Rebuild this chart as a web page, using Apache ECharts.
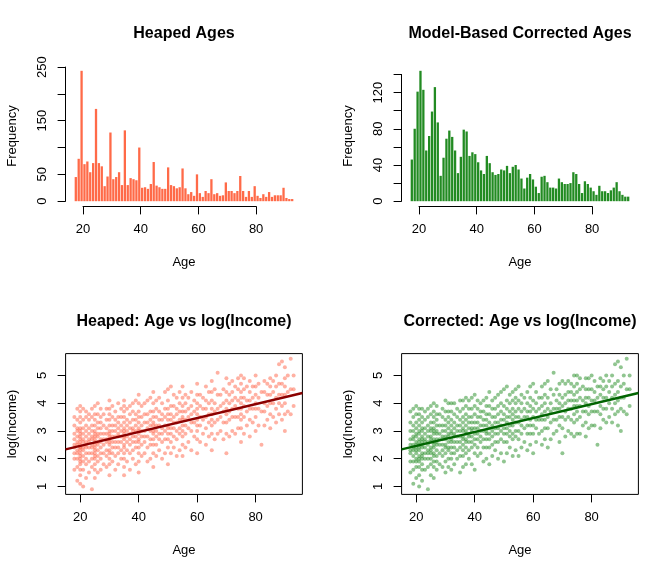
<!DOCTYPE html>
<html>
<head>
<meta charset="utf-8">
<script src="https://cdn.jsdelivr.net/npm/echarts@6/dist/echarts.min.js"></script>
<style>
html, body { margin: 0; padding: 0; background: #fff; }
#chart { width: 672px; height: 576px; }
</style>
</head>
<body>
<div id="chart"></div>
<script>
// one histogram bar / one column of points per year of age
const ages = [18,19,20,21,22,23,24,25,26,27,28,29,30,31,32,33,34,35,36,37,38,39,40,
  41,42,43,44,45,46,47,48,49,50,51,52,53,54,55,56,57,58,59,60,
  61,62,63,64,65,66,67,68,69,70,71,72,73,74,75,76,77,78,79,80,
  81,82,83,84,85,86,87,88,89,90,91,92,93];

// histogram counts
const heapedFreq = [45,79,243,69,74,54,71,172,71,65,28,46,128,41,45,54,30,132,30,43,41,39,100,
  25,26,23,32,73,29,26,23,23,63,30,28,24,26,61,24,13,17,10,50,
  15,8,19,15,41,13,15,10,11,35,19,19,15,19,47,19,8,19,8,28,10,6,13,8,17,8,11,11,11,25,6,4,4];
const correctedFreq = [46,80,121,144,123,56,72,99,126,87,28,48,69,78,71,56,31,49,79,77,50,54,52,
  43,34,30,50,42,32,29,30,35,34,39,31,38,40,35,25,14,26,30,24,
  16,9,27,28,21,15,15,14,25,21,19,19,20,32,30,19,9,22,19,15,11,7,17,11,11,9,12,15,21,11,7,5,5];

// log(income) values per age (a thinned sample of the visible cloud)
const heapedIncome = [
  [1.6,2.0,2.2,2.4,2.5,2.7,2.9,3.2,3.5],
  [1.2,1.7,2.0,2.2,2.3,2.5,2.6,2.8,3.0,3.1,3.4,3.8],
  [1.1,1.4,1.6,1.8,1.9,2.0,2.1,2.2,2.3,2.4,2.4,2.5,2.6,2.7,2.8,2.9,3.0,3.1,3.3,3.5,3.7,3.9],
  [1.0,1.6,1.9,2.1,2.3,2.4,2.6,2.7,2.9,3.1,3.4,3.8],
  [1.3,1.8,2.0,2.2,2.4,2.5,2.6,2.8,3.0,3.2,3.5,3.7],
  [1.5,1.9,2.2,2.4,2.6,2.7,2.9,3.1,3.4,3.6],
  [0.9,1.7,2.0,2.2,2.4,2.5,2.7,2.8,3.0,3.2,3.5,3.8],
  [1.3,1.6,1.8,2.0,2.1,2.2,2.3,2.4,2.5,2.6,2.7,2.8,2.9,3.0,3.2,3.4,3.6,3.9],
  [1.5,1.9,2.1,2.3,2.5,2.6,2.8,2.9,3.1,3.3,3.6,4.0],
  [1.6,2.0,2.2,2.4,2.6,2.7,2.9,3.1,3.3,3.5,3.8],
  [1.8,2.2,2.5,2.7,2.9,3.2,3.6],
  [1.7,2.1,2.3,2.6,2.7,2.9,3.1,3.4,3.8],
  [1.4,1.8,2.0,2.2,2.3,2.5,2.6,2.7,2.8,2.9,3.0,3.2,3.4,3.6,3.8,4.1],
  [1.9,2.2,2.4,2.6,2.8,3.0,3.2,3.5,3.9],
  [1.6,2.1,2.4,2.6,2.8,3.0,3.2,3.4,3.7],
  [1.8,2.2,2.4,2.6,2.8,2.9,3.1,3.3,3.5,4.0],
  [2.0,2.3,2.6,2.8,3.0,3.2,3.5,3.8],
  [1.4,1.7,2.0,2.2,2.4,2.5,2.7,2.8,2.9,3.0,3.1,3.3,3.5,3.7,3.9,4.1],
  [1.9,2.3,2.6,2.8,3.0,3.2,3.4,3.8],
  [1.6,2.2,2.5,2.7,2.9,3.1,3.3,3.6,3.9],
  [2.0,2.3,2.6,2.8,3.0,3.1,3.4,3.7,4.0],
  [1.8,2.4,2.6,2.8,3.0,3.2,3.4,3.6,4.1],
  [1.5,1.9,2.2,2.4,2.6,2.7,2.9,3.0,3.1,3.3,3.5,3.7,4.0,4.3],
  [2.1,2.5,2.8,3.0,3.2,3.5,3.9],
  [2.2,2.6,2.8,3.0,3.3,3.6,4.0],
  [1.9,2.4,2.8,3.1,3.3,3.6,4.1],
  [2.0,2.5,2.7,3.0,3.2,3.4,3.7,4.2],
  [1.7,2.2,2.5,2.7,2.9,3.0,3.2,3.3,3.5,3.7,4.0,4.4],
  [2.1,2.5,2.8,3.0,3.2,3.5,3.8,4.1],
  [2.3,2.7,2.9,3.2,3.4,3.7,4.2],
  [2.0,2.6,2.9,3.1,3.4,3.6,4.0],
  [2.2,2.7,3.0,3.2,3.5,3.8,4.4],
  [1.8,2.4,2.7,2.9,3.1,3.2,3.4,3.6,3.8,4.1,4.5],
  [2.2,2.6,2.9,3.1,3.4,3.6,3.9,4.6],
  [2.4,2.8,3.1,3.3,3.5,3.9,4.3],
  [2.1,2.7,3.0,3.3,3.6,3.8,4.2],
  [2.3,2.9,3.1,3.4,3.7,4.0,4.4],
  [2.1,2.5,2.8,3.0,3.2,3.4,3.5,3.7,3.9,4.2,4.6],
  [2.4,2.9,3.2,3.4,3.7,4.0,4.3],
  [2.6,3.1,3.5,3.8,4.2],
  [2.3,3.0,3.3,3.6,3.9,4.4],
  [2.8,3.3,3.7,4.1],
  [2.2,2.7,3.0,3.2,3.4,3.6,3.8,4.0,4.3,4.7],
  [2.6,3.2,3.5,3.9,4.3],
  [2.9,3.4,3.8,4.2],
  [2.5,3.1,3.5,3.8,4.1,4.6],
  [2.8,3.3,3.6,4.0,4.4],
  [2.3,2.9,3.2,3.4,3.6,3.8,4.1,4.4,4.8],
  [2.7,3.3,3.7,4.0,4.5],
  [2.9,3.4,3.8,4.3,5.1],
  [3.0,3.5,3.9,4.3],
  [2.7,3.3,3.7,4.0,4.5],
  [2.2,2.9,3.3,3.6,3.8,4.1,4.4,4.9],
  [2.8,3.4,3.7,4.0,4.3,4.7],
  [3.0,3.5,3.8,4.1,4.4,4.8],
  [2.9,3.5,3.9,4.2,4.6],
  [3.1,3.5,3.8,4.1,4.5,4.9],
  [2.6,3.1,3.4,3.6,3.8,4.0,4.2,4.4,4.7,5.0],
  [2.9,3.5,3.9,4.2,4.5,4.9],
  [3.2,3.7,4.1,4.6],
  [2.8,3.4,3.8,4.1,4.4,4.8],
  [3.3,3.8,4.2,4.6],
  [3.0,3.5,3.8,4.0,4.3,4.6,5.0],
  [3.2,3.8,4.2,4.7],
  [2.5,3.7,4.4],
  [3.2,3.7,4.0,4.4,4.8],
  [3.4,3.9,4.3,4.7],
  [3.1,3.6,4.0,4.3,4.6,4.9],
  [3.5,4.0,4.4,4.8],
  [3.3,3.8,4.2,4.6,5.0],
  [3.6,4.0,4.3,4.7,5.4],
  [3.4,3.9,4.3,4.7,5.5],
  [3.0,3.6,4.0,4.3,4.6,4.9,5.3],
  [3.7,4.4,5.0],
  [3.6,4.5,5.6],
  [3.9,4.5,5.0]
];
const correctedIncome = [
  [1.5,1.9,2.2,2.3,2.5,2.7,3.0,3.3,3.7],
  [1.1,1.6,1.9,2.1,2.3,2.4,2.5,2.7,2.8,3.0,3.2,3.5,3.8],
  [1.3,1.7,1.9,2.0,2.2,2.3,2.4,2.5,2.6,2.8,2.9,3.1,3.3,3.6,3.9],
  [1.0,1.4,1.7,1.9,2.0,2.1,2.3,2.4,2.5,2.6,2.7,2.9,3.0,3.2,3.4,3.6,3.8],
  [1.2,1.6,1.8,2.0,2.1,2.2,2.4,2.5,2.6,2.7,2.8,3.0,3.1,3.3,3.5,3.8],
  [1.6,2.0,2.2,2.4,2.6,2.7,2.9,3.1,3.4,3.7],
  [0.9,1.7,2.0,2.2,2.3,2.5,2.6,2.8,3.0,3.2,3.5,3.8],
  [1.4,1.8,2.0,2.2,2.3,2.4,2.6,2.7,2.8,3.0,3.1,3.3,3.6,3.9],
  [1.3,1.7,1.9,2.1,2.2,2.4,2.5,2.6,2.7,2.9,3.0,3.1,3.3,3.5,3.7,4.0],
  [1.6,1.9,2.1,2.3,2.5,2.6,2.7,2.9,3.0,3.2,3.4,3.6,3.9],
  [1.8,2.2,2.5,2.7,2.9,3.2,3.6],
  [1.7,2.1,2.3,2.5,2.7,2.8,3.0,3.2,3.5,3.8],
  [1.5,1.9,2.2,2.4,2.5,2.7,2.8,3.0,3.2,3.4,3.7,4.1],
  [1.7,2.0,2.3,2.4,2.6,2.8,2.9,3.1,3.3,3.5,3.7,4.0],
  [1.6,2.0,2.2,2.4,2.6,2.7,2.9,3.0,3.2,3.4,3.7,4.0],
  [1.8,2.2,2.4,2.6,2.8,2.9,3.1,3.3,3.6,4.0],
  [2.0,2.3,2.6,2.8,3.0,3.2,3.5,3.8],
  [1.5,2.1,2.4,2.6,2.8,3.0,3.2,3.4,3.7,4.1],
  [1.7,2.1,2.3,2.5,2.7,2.8,3.0,3.1,3.3,3.5,3.8,4.1],
  [1.8,2.2,2.4,2.6,2.7,2.9,3.0,3.2,3.4,3.6,3.9,4.2],
  [2.0,2.3,2.6,2.8,2.9,3.1,3.3,3.5,3.8,4.1],
  [1.8,2.4,2.6,2.8,3.0,3.1,3.3,3.5,3.8,4.2],
  [1.6,2.2,2.5,2.7,2.9,3.1,3.3,3.6,3.9,4.3],
  [2.1,2.4,2.7,2.9,3.1,3.3,3.5,3.8,4.1],
  [2.2,2.6,2.8,3.0,3.2,3.5,3.7,4.0],
  [1.9,2.4,2.7,3.0,3.2,3.4,3.7,4.1],
  [2.0,2.4,2.7,2.9,3.0,3.2,3.4,3.6,3.9,4.2],
  [1.8,2.4,2.7,2.9,3.1,3.3,3.6,3.9,4.4],
  [2.1,2.5,2.8,3.0,3.2,3.5,3.8,4.1],
  [2.3,2.6,2.9,3.1,3.3,3.5,3.8,4.2],
  [2.0,2.6,2.9,3.1,3.3,3.6,3.9,4.3],
  [2.2,2.7,3.0,3.2,3.4,3.7,4.0,4.4],
  [1.9,2.6,2.9,3.1,3.4,3.6,3.9,4.5],
  [2.2,2.6,2.9,3.1,3.3,3.5,3.8,4.1,4.6],
  [2.4,2.8,3.0,3.2,3.5,3.7,4.0,4.3],
  [2.1,2.7,2.9,3.2,3.4,3.6,3.8,4.1,4.4],
  [2.3,2.8,3.0,3.3,3.5,3.7,4.0,4.2,4.5],
  [2.1,2.7,3.0,3.3,3.5,3.8,4.1,4.6],
  [2.4,2.9,3.2,3.4,3.7,4.0,4.3],
  [2.6,3.1,3.5,3.8,4.2],
  [2.3,2.9,3.2,3.5,3.7,4.0,4.4],
  [2.5,2.9,3.2,3.4,3.7,3.9,4.2,4.6],
  [2.2,2.9,3.2,3.5,3.8,4.1,4.7],
  [2.6,3.1,3.4,3.7,4.0,4.4],
  [2.9,3.4,3.8,4.2],
  [2.5,3.0,3.4,3.6,3.9,4.2,4.6],
  [2.7,3.1,3.4,3.7,4.0,4.3,4.7],
  [2.4,3.1,3.5,3.8,4.2,4.8],
  [2.7,3.3,3.7,4.0,4.5],
  [2.9,3.4,3.8,4.3,5.1],
  [3.0,3.4,3.8,4.1,4.5],
  [2.6,3.2,3.5,3.8,4.0,4.3,4.7],
  [2.2,3.1,3.5,3.9,4.2,4.8],
  [2.8,3.4,3.7,4.0,4.3,4.7],
  [3.0,3.5,3.8,4.1,4.4,4.8],
  [2.9,3.4,3.8,4.1,4.4,4.7],
  [2.8,3.3,3.6,3.9,4.1,4.3,4.6,5.0],
  [2.9,3.4,3.7,3.9,4.1,4.4,4.7,5.0],
  [2.9,3.5,3.9,4.2,4.5,4.9],
  [3.2,3.7,4.1,4.6],
  [2.8,3.3,3.7,4.0,4.2,4.5,4.9],
  [3.1,3.6,3.9,4.2,4.5,4.9],
  [3.2,3.7,4.1,4.5,5.0],
  [3.2,3.7,4.1,4.4,4.8],
  [2.5,3.7,4.2,4.6],
  [3.1,3.6,3.9,4.3,4.6,4.9],
  [3.4,3.8,4.2,4.5,4.8],
  [3.3,3.8,4.2,4.6,5.0],
  [3.5,4.0,4.4,4.8],
  [3.3,3.8,4.2,4.6,5.0],
  [3.6,4.0,4.3,4.7,5.4],
  [3.2,3.7,4.1,4.4,4.8,5.5],
  [3.0,3.8,4.2,4.6,5.3],
  [3.7,4.2,4.7,5.0],
  [3.6,4.5,5.6],
  [3.9,4.5,5.0]
];

// fitted regression line log(Income) ~ Age
const fitIntercept = 1.962;
const fitSlope = 0.02505;

// tick marks and which of them carry a label
const ageTicks = [20, 40, 60, 80];
const heapedYTicks = [0, 50, 100, 150, 200, 250];
const heapedYLabels = [0, 50, 150, 250];
const correctedYTicks = [0, 20, 40, 60, 80, 100, 120, 140];
const correctedYLabels = [0, 40, 80, 120];
const incomeTicks = [1, 2, 3, 4, 5];

// layout: 2x2 panels with R-like margins
const PANEL_W = 336, PANEL_H = 288;
const MAR = { left: 65.6, right: 33.6, top: 65.6, bottom: 81.6 };
const FONT = '"Liberation Sans", Arial, Helvetica, sans-serif';

const grids = [], xAxes = [], yAxes = [], series = [], titles = [];

function scale(v, d0, d1, p0, p1) {
    return p0 + (v - d0) / (d1 - d0) * (p1 - p0);
}

// R pads the data range by 4% on each side
function padRange(lo, hi) {
    const d = (hi - lo) * 0.04;
    return [lo - d, hi + d];
}

const lineAxis = { show: true, onZero: false, lineStyle: { color: '#000', width: 1 } };
const tickStyle = { show: true, length: 8, lineStyle: { color: '#000', width: 1 } };
const labelText = { fontFamily: FONT, fontSize: 13, color: '#000' };

function addPanel(col, row, cfg) {
    const left = col * PANEL_W + MAR.left;
    const top = row * PANEL_H + MAR.top;
    const width = PANEL_W - MAR.left - MAR.right;
    const height = PANEL_H - MAR.top - MAR.bottom;
    const [x0, x1] = cfg.xRange;
    const [y0, y1] = cfg.yRange;

    titles.push({
        text: cfg.title,
        left: left + width / 2,
        top: row * PANEL_H + 26,
        textAlign: 'center',
        padding: 0,
        textStyle: { fontFamily: FONT, fontSize: 16, fontWeight: 'bold', color: '#000' }
    });

    // plotting region (holds the data and the axis titles)
    let gi = grids.length;
    grids.push({ left, top, width, height, show: cfg.box, borderColor: '#000', borderWidth: 1,
        backgroundColor: 'transparent', outerBoundsMode: 'none' });
    xAxes.push({
        gridIndex: gi, type: 'value', min: x0, max: x1,
        name: 'Age', nameLocation: 'middle', nameGap: 50, nameTextStyle: labelText,
        axisLine: { show: false }, axisTick: { show: false }, axisLabel: { show: false }, splitLine: { show: false }
    });
    yAxes.push({
        gridIndex: gi, type: 'value', min: y0, max: y1,
        name: cfg.yName, nameLocation: 'middle', nameGap: 47, nameTextStyle: labelText,
        axisLine: { show: false }, axisTick: { show: false }, axisLabel: { show: false }, splitLine: { show: false }
    });
    cfg.series.forEach(s => series.push(Object.assign({ xAxisIndex: gi, yAxisIndex: gi, silent: true }, s)));

    // y axis: the line only spans the ticks, like R's axis()
    const yt = cfg.yTicks;
    const yTop = scale(yt[yt.length - 1], y0, y1, top + height, top);
    const yBot = scale(yt[0], y0, y1, top + height, top);
    gi = grids.length;
    grids.push({ left, top: yTop, width: 10, height: yBot - yTop, outerBoundsMode: 'none' });
    xAxes.push({ gridIndex: gi, type: 'value', show: false, min: 0, max: 1 });
    yAxes.push({
        gridIndex: gi, type: 'value', position: 'left',
        min: yt[0], max: yt[yt.length - 1], interval: yt[1] - yt[0],
        axisLine: lineAxis, axisTick: tickStyle, splitLine: { show: false },
        axisLabel: Object.assign({
            rotate: 90, margin: 17,
            formatter: v => cfg.yLabels.includes(v) ? String(v) : ''
        }, labelText)
    });

    // x axis
    const xt = cfg.xTicks;
    const xl = scale(xt[0], x0, x1, left, left + width);
    const xr = scale(xt[xt.length - 1], x0, x1, left, left + width);
    gi = grids.length;
    grids.push({ left: xl, top: top + height - 10, width: xr - xl, height: 10, outerBoundsMode: 'none' });
    xAxes.push({
        gridIndex: gi, type: 'value', position: 'bottom',
        min: xt[0], max: xt[xt.length - 1], interval: xt[1] - xt[0],
        axisLine: lineAxis, axisTick: tickStyle, splitLine: { show: false },
        axisLabel: Object.assign({ margin: 17 }, labelText)
    });
    yAxes.push({ gridIndex: gi, type: 'value', show: false, min: 0, max: 1 });
}

function histSeries(freq, color) {
    return [{
        type: 'bar',
        data: ages.map((a, i) => [a - 0.5, freq[i]]),
        barWidth: 2.3,
        itemStyle: { color: color }
    }];
}

function scatterSeries(income, pointColor, lineColor, xRange) {
    const pts = [];
    ages.forEach((a, i) => income[i].forEach(v => pts.push([a, v])));
    return [{
        type: 'scatter',
        data: pts,
        symbolSize: 4,
        itemStyle: { color: pointColor, opacity: 0.5 }
    }, {
        type: 'line',
        data: xRange.map(x => [x, fitIntercept + fitSlope * x]),
        symbol: 'none',
        lineStyle: { color: lineColor, width: 2.4 }
    }];
}

const histX = padRange(ages[0] - 1, ages[ages.length - 1]);
const allIncome = heapedIncome.flat();
const scatterX = padRange(ages[0], ages[ages.length - 1]);
const scatterY = padRange(Math.min(...allIncome), Math.max(...allIncome));

addPanel(0, 0, {
    title: 'Heaped Ages', yName: 'Frequency', box: false,
    xRange: histX, yRange: padRange(0, Math.max(...heapedFreq)),
    xTicks: ageTicks, yTicks: heapedYTicks, yLabels: heapedYLabels,
    series: histSeries(heapedFreq, '#FF6A48')
});
addPanel(1, 0, {
    title: 'Model-Based Corrected Ages', yName: 'Frequency', box: false,
    xRange: histX, yRange: padRange(0, Math.max(...correctedFreq)),
    xTicks: ageTicks, yTicks: correctedYTicks, yLabels: correctedYLabels,
    series: histSeries(correctedFreq, '#228B22')
});
addPanel(0, 1, {
    title: 'Heaped: Age vs log(Income)', yName: 'log(Income)', box: true,
    xRange: scatterX, yRange: scatterY,
    xTicks: ageTicks, yTicks: incomeTicks, yLabels: incomeTicks,
    series: scatterSeries(heapedIncome, '#FF6347', '#8B0000', scatterX)
});
addPanel(1, 1, {
    title: 'Corrected: Age vs log(Income)', yName: 'log(Income)', box: true,
    xRange: scatterX, yRange: scatterY,
    xTicks: ageTicks, yTicks: incomeTicks, yLabels: incomeTicks,
    series: scatterSeries(correctedIncome, '#228B22', '#006400', scatterX)
});

const chart = echarts.init(document.getElementById('chart'), null, { renderer: 'canvas' });
chart.setOption({
    animation: false,
    backgroundColor: '#fff',
    title: titles,
    grid: grids,
    xAxis: xAxes,
    yAxis: yAxes,
    series: series
});
</script>
</body>
</html>
